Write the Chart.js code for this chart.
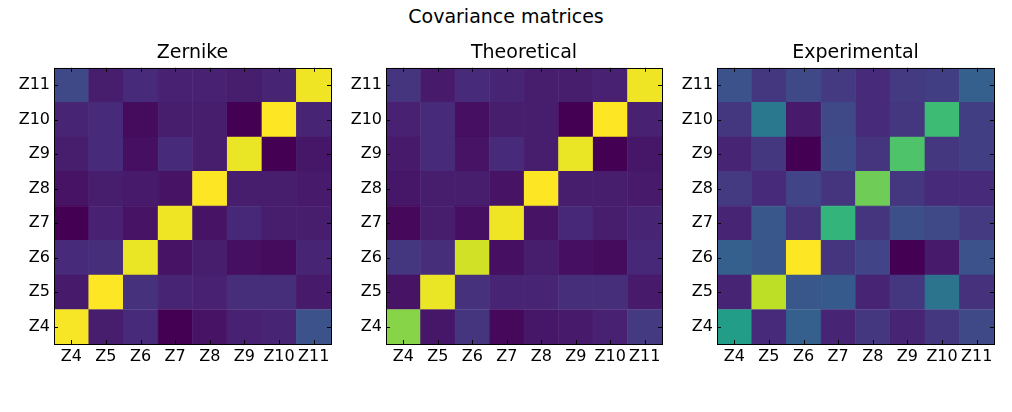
<!DOCTYPE html>
<html>
<head>
<meta charset="utf-8">
<script src="https://cdn.jsdelivr.net/npm/chart.js@4/dist/chart.umd.min.js"></script>
<style>
  body { margin: 0; background: #fff; width: 1012px; height: 412px; position: relative; overflow: hidden; }
  .panel { position: absolute; top: 42px; }
  #suptitle { position: absolute; top: 5px; left: 0; width: 1012px; text-align: center;
    font: 19px "DejaVu Sans"; color: #000; }
</style>
</head>
<body>
<div id="suptitle">Covariance matrices</div>
<div class="panel" style="left:0px;width:337px;height:332px"><canvas id="c0"></canvas></div>
<div class="panel" style="left:332px;width:336px;height:332px"><canvas id="c1"></canvas></div>
<div class="panel" style="left:663px;width:337px;height:332px"><canvas id="c2"></canvas></div>
<script>
// tick labels, same for both axes
const labels = ['Z4', 'Z5', 'Z6', 'Z7', 'Z8', 'Z9', 'Z10', 'Z11'];
const titles = ['Zernike', 'Theoretical', 'Experimental'];

// rows go from Z4 (bottom) up to Z11 (top), columns Z4..Z11
const zernike = [
  [0.99, 0.08, 0.12, 0.00, 0.05, 0.09, 0.10, 0.25],
  [0.07, 1.00, 0.14, 0.10, 0.09, 0.13, 0.13, 0.07],
  [0.12, 0.13, 0.97, 0.05, 0.08, 0.04, 0.03, 0.10],
  [0.00, 0.09, 0.05, 0.98, 0.05, 0.11, 0.08, 0.08],
  [0.05, 0.08, 0.07, 0.05, 1.00, 0.08, 0.08, 0.07],
  [0.08, 0.12, 0.04, 0.12, 0.08, 0.97, 0.00, 0.06],
  [0.10, 0.12, 0.03, 0.08, 0.08, 0.00, 1.00, 0.10],
  [0.22, 0.08, 0.12, 0.09, 0.09, 0.08, 0.10, 0.98]
];
const theoretical = [
  [0.82, 0.06, 0.15, 0.02, 0.06, 0.07, 0.09, 0.17],
  [0.05, 0.97, 0.14, 0.10, 0.10, 0.13, 0.13, 0.07],
  [0.16, 0.13, 0.93, 0.04, 0.08, 0.04, 0.03, 0.11],
  [0.02, 0.08, 0.04, 0.98, 0.05, 0.11, 0.08, 0.10],
  [0.06, 0.08, 0.08, 0.05, 1.00, 0.08, 0.08, 0.07],
  [0.07, 0.12, 0.05, 0.12, 0.08, 0.97, 0.00, 0.06],
  [0.09, 0.12, 0.04, 0.08, 0.08, 0.00, 1.00, 0.09],
  [0.15, 0.07, 0.12, 0.10, 0.08, 0.08, 0.09, 0.98]
];
const experimental = [
  [0.55, 0.12, 0.30, 0.10, 0.16, 0.10, 0.16, 0.22],
  [0.10, 0.90, 0.27, 0.28, 0.10, 0.16, 0.38, 0.14],
  [0.30, 0.27, 1.00, 0.15, 0.20, 0.00, 0.07, 0.25],
  [0.10, 0.27, 0.14, 0.65, 0.15, 0.24, 0.22, 0.17],
  [0.17, 0.12, 0.20, 0.15, 0.78, 0.16, 0.12, 0.12],
  [0.10, 0.16, 0.00, 0.23, 0.15, 0.72, 0.16, 0.18],
  [0.16, 0.40, 0.07, 0.22, 0.12, 0.16, 0.68, 0.18],
  [0.25, 0.16, 0.22, 0.17, 0.12, 0.17, 0.18, 0.30]
];
const matrices = [zernike, theoretical, experimental];

// viridis anchors
const vir = ['#440154', '#482475', '#414487', '#355f8d', '#2a788e', '#21918c',
             '#22a884', '#44bf70', '#7ad151', '#bddf26', '#fde725'];
function hex(h) { return [1, 3, 5].map(i => parseInt(h.substr(i, 2), 16)); }
function viridis(t) {
  t = Math.max(0, Math.min(1, t)) * 10;
  const i = Math.min(9, Math.floor(t)), f = t - i;
  const a = hex(vir[i]), b = hex(vir[i + 1]);
  return 'rgb(' + a.map((v, k) => Math.round(v + (b[k] - v) * f)).join(',') + ')';
}

// frame + inward ticks on all 4 sides like matplotlib
const framePlugin = {
  id: 'frame',
  afterDraw(chart) {
    const { ctx, chartArea: a, scales } = chart;
    ctx.save();
    ctx.strokeStyle = '#000';
    ctx.lineWidth = 1;
    scales.x.ticks.forEach((t, i) => {
      const x = Math.round(scales.x.getPixelForTick(i)) + 0.5;
      ctx.beginPath();
      ctx.moveTo(x, a.bottom); ctx.lineTo(x, a.bottom - 4);
      ctx.moveTo(x, a.top); ctx.lineTo(x, a.top + 4);
      ctx.stroke();
    });
    scales.y.ticks.forEach(t => {
      const y = Math.round(scales.y.getPixelForValue(t.value)) + 0.5;
      ctx.beginPath();
      ctx.moveTo(a.left, y); ctx.lineTo(a.left + 4, y);
      ctx.moveTo(a.right, y); ctx.lineTo(a.right - 4, y);
      ctx.stroke();
    });
    const l = Math.round(a.left) + 0.5, tp = Math.round(a.top) + 0.5;
    ctx.strokeRect(l, tp, Math.round(a.right) - Math.round(a.left), Math.round(a.bottom) - Math.round(a.top));
    ctx.restore();
  }
};

matrices.forEach((m, p) => {
  const flat = m.flat();
  const lo = Math.min(...flat), hi = Math.max(...flat);
  const datasets = m.map((row, r) => ({
    data: row.map(() => [r - 0.5, r + 0.5]),
    backgroundColor: row.map(v => viridis((v - lo) / (hi - lo))),
    borderColor: row.map(v => viridis((v - lo) / (hi - lo))),
    borderWidth: 0.6,
    borderSkipped: false,
    barPercentage: 1,
    categoryPercentage: 1,
    grouped: false
  }));
  new Chart(document.getElementById('c' + p), {
    type: 'bar',
    data: { labels: labels, datasets: datasets },
    options: {
      responsive: true,
      maintainAspectRatio: false,
      animation: false,
      layout: { padding: { right: 6, top: 0, left: 0, bottom: 0 } },
      plugins: {
        legend: { display: false },
        tooltip: { enabled: false },
        title: {
          display: true, text: titles[p], color: '#000', fullSize: false,
          font: { family: 'DejaVu Sans', size: 19, weight: 'normal' },
          padding: { top: 0, bottom: 3 }
        }
      },
      scales: {
        x: {
          grid: { display: false, drawTicks: false }, border: { display: false },
          ticks: { color: '#000', font: { family: 'DejaVu Sans', size: 16 }, padding: 3, maxRotation: 0, autoSkip: false },
          afterFit(s) { s.height = 30; }
        },
        y: {
          type: 'linear', min: -0.5, max: 7.5,
          grid: { display: false, drawTicks: false }, border: { display: false },
          ticks: { color: '#000', font: { family: 'DejaVu Sans', size: 16 }, padding: 4,
                   callback: v => labels[v] },
          afterBuildTicks(s) { s.ticks = labels.map((l, i) => ({ value: i })); },
          afterFit(s) { s.width = 54; }
        }
      }
    },
    plugins: [framePlugin]
  });
});
</script>
</body>
</html>
